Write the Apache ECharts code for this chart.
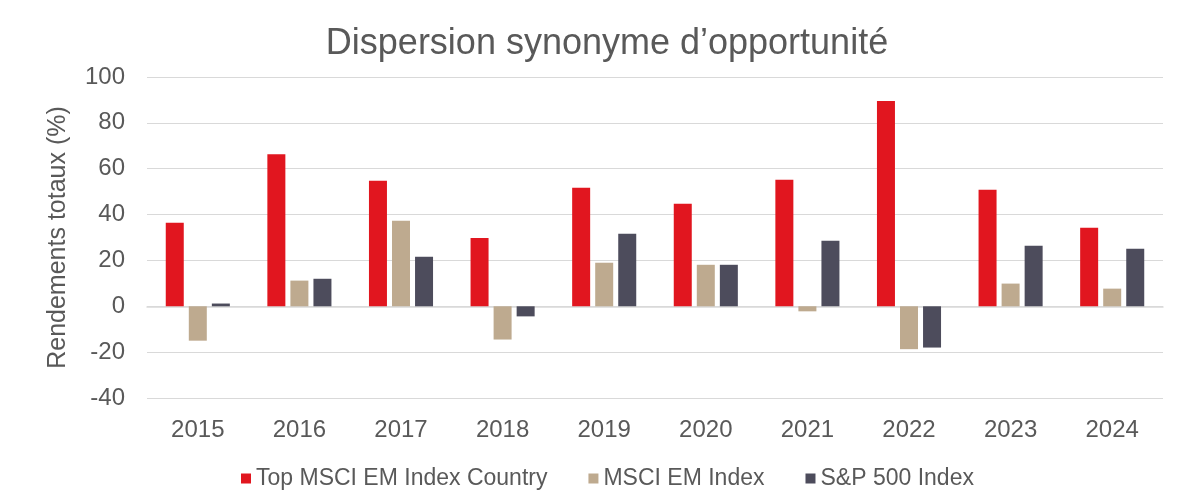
<!DOCTYPE html>
<html lang="fr">
  <head>
    <meta charset="UTF-8" />
    <title>Dispersion synonyme d'opportunité</title>
    <style>
      * {
        padding: 0;
        margin: 0;
      }
      html,
      body {
        width: 100%;
        height: 100%;
        background: #fff;
      }
      #main {
        width: 1200px;
        height: 500px;
      }
    </style>
  </head>
  <body>
    <div id="main"></div>
    <script src="https://cdn.jsdelivr.net/npm/echarts@6/dist/echarts.min.js"></script>
    <script>
      // données
      var years = ['2015', '2016', '2017', '2018', '2019', '2020', '2021', '2022', '2023', '2024'];
      var topCountry = [36.4, 66.3, 54.7, 29.8, 51.7, 44.7, 55.2, 89.5, 50.8, 34.3];
      var msciEm = [-15.0, 11.2, 37.3, -14.5, 19.0, 18.1, -2.2, -18.7, 9.9, 7.7];
      var sp500 = [1.2, 12.0, 21.6, -4.4, 31.6, 18.1, 28.6, -18.0, 26.4, 25.1];

      var textColor = '#595959';
      var font = 'Liberation Sans, Arial, sans-serif';

      var myChart = echarts.init(document.getElementById('main'));

      function bar(name, data, color) {
        return {
          name: name,
          type: 'bar',
          data: data,
          barWidth: 18,
          barGap: '28%',
          itemStyle: { color: color },
        };
      }

      var option = {
        animation: false,
        textStyle: { fontFamily: font },
        title: {
          text: 'Dispersion synonyme d\u2019opportunité',
          left: 602,
          textAlign: 'center',
          top: 21,
          textStyle: {
            color: textColor,
            fontSize: 36,
            fontWeight: 'normal',
            fontFamily: font,
          },
        },
        grid: {
          left: 147,
          right: 37,
          top: 77,
          bottom: 102,
        },
        legend: {
          bottom: 5,
          left: 236,
          itemWidth: 10,
          itemHeight: 10,
          itemGap: 41,
          icon: 'rect',
          textStyle: {
            color: textColor,
            fontSize: 23,
            fontFamily: font,
          },
          data: ['Top MSCI EM Index Country', 'MSCI EM Index', 'S&P 500 Index'],
        },
        xAxis: {
          type: 'category',
          data: years,
          axisTick: { show: false },
          axisLine: {
            lineStyle: { color: '#d9d9d9', width: 1.5 },
          },
          axisLabel: {
            color: textColor,
            fontSize: 24,
            margin: 20,
          },
        },
        yAxis: {
          type: 'value',
          min: -40,
          max: 100,
          interval: 20,
          name: 'Rendements totaux (%)',
          nameLocation: 'middle',
          nameGap: 76,
          nameTextStyle: {
            color: textColor,
            fontSize: 25,
            fontFamily: font,
          },
          axisLine: { show: false },
          axisTick: { show: false },
          axisLabel: {
            color: textColor,
            fontSize: 24,
            margin: 22,
          },
          splitLine: {
            lineStyle: { color: '#d9d9d9', width: 1 },
          },
        },
        series: [
          bar('Top MSCI EM Index Country', topCountry, '#E1161F'),
          bar('MSCI EM Index', msciEm, '#BEAA8F'),
          bar('S&P 500 Index', sp500, '#4D4C5C'),
        ],
      };

      myChart.setOption(option);
    </script>
  </body>
</html>
